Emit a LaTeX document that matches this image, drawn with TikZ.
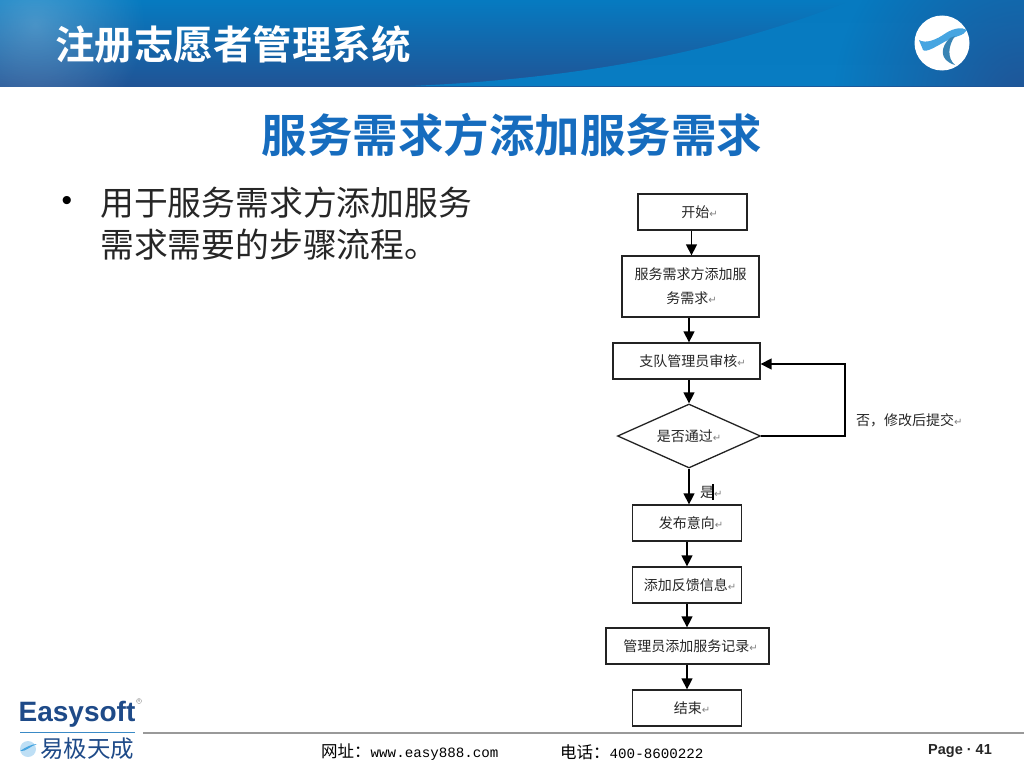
\documentclass[tikz,border=0pt]{standalone}
\usepackage{fontspec}
\usetikzlibrary{arrows.meta, positioning, calc, shapes.geometric, fadings}
\newfontfamily\cjk[BoldFont=* Bold]{Noto Sans CJK SC}
\newfontfamily\retfont{DejaVu Sans}
\newfontfamily\monofont{Liberation Mono}
\setmainfont{Liberation Sans}
\definecolor{headbright}{RGB}{6, 122, 192}
\definecolor{headdark}{RGB}{32, 84, 150}
\definecolor{headlow}{RGB}{8, 124, 194}
\definecolor{titleblue}{RGB}{22, 108, 190}
\definecolor{logoblue}{RGB}{30, 74, 136}
\definecolor{swooshblue}{RGB}{70, 165, 225}
\definecolor{flowline}{RGB}{35, 35, 35}
\tikzfading[name=softglow, inner color=transparent!0, outer color=transparent!100]
\newcommand{\retmark}{{\retfont\fontsize{10}{10}\selectfont\textcolor{gray}{↵}}}
\tikzset{
    flowbox/.style={draw=flowline, line width=1.3pt, fill=white, inner sep=0pt, align=center, text=black!85, font=\cjk\fontsize{14}{24}\selectfont},
    flowdecision/.style={flowbox, diamond, aspect=2.23},
    flowarrow/.style={draw=black, line width=1.4pt, -{Triangle[length=11pt, width=11pt]}},
    flowlabel/.style={inner sep=0pt, text=black!85, font=\cjk\fontsize{14}{16}\selectfont}
}
\begin{document}
\begin{tikzpicture}[x=1pt, y=-1pt]
    \useasboundingbox (0,0) rectangle (1024,768);

    % Testata
    \begin{scope}
        \clip (0,1) rectangle (1024,86);
        \shade[top color=headbright, bottom color=headdark] (0,1) rectangle (1024,86);
        \shade[top color=headbright, bottom color=headlow] (410,86) .. controls (600,78) and (740,45) .. (850,1) -- (1024,1) -- (1024,86) -- cycle;
        \fill[headdark, path fading=softglow] (1024,100) circle (190);
        \fill[white, opacity=0.25, path fading=softglow] (35,25) circle (110);
    \end{scope}
    \node[text=white, inner sep=0pt, font=\cjk\bfseries\fontsize{39.5}{44}\selectfont] (headtitle) at (233,44) {注册志愿者管理系统};

    % Marchio in alto
    \fill[white] (942,43) circle (27.5);
    \fill[swooshblue] (919,40) .. controls (926,44) and (936,40) .. (946,33)
        .. controls (954,28) and (962,27) .. (967,30)
        .. controls (964,36) and (955,36) .. (946,41)
        .. controls (937,46) and (926,53) .. (923,50)
        .. controls (922,47) and (920,43) .. (919,40) -- cycle;
    \fill[swooshblue!80!black] (950,38) .. controls (941,46) and (938,60) .. (955,65)
        .. controls (947,58) and (948,46) .. (955,36) -- cycle;

    \node[text=titleblue, inner sep=0pt, font=\cjk\bfseries\fontsize{45.5}{50}\selectfont] (subtitle) at (512,135) {服务需求方添加服务需求};

    % Testo a sinistra
    \node[inner sep=0pt, font=\fontsize{30}{30}\selectfont] (bulletdot) at (67,203) {•};
    \node[anchor=west, inner sep=0pt, text=black!85, font=\cjk\fontsize{33.8}{42}\selectfont, align=left] (bodytext) at (100,224) {用于服务需求方添加服务\\需求需要的步骤流程。};

    % Flusso
    \node[flowbox, minimum width=109, minimum height=36] (start) at (692.5,212) {\hspace{14pt}开始\retmark};
    \node[flowbox, minimum width=137, minimum height=61] (add) at (690.5,286.5) {服务需求方添加服\\\hspace{2pt}务需求\retmark};
    \node[flowbox, minimum width=147, minimum height=36] (review) at (686.5,361) {\hspace{12pt}支队管理员审核\retmark};
    \node[flowdecision, minimum width=143, minimum height=64] (check) at (689,436) {是否通过\retmark};
    \node[flowbox, minimum width=109, minimum height=36] (publish) at (687,523) {\hspace{8pt}发布意向\retmark};
    \node[flowbox, minimum width=109, minimum height=36] (feedback) at (687,585) {\hspace{6pt}添加反馈信息\retmark};
    \node[flowbox, minimum width=163, minimum height=36] (record) at (687.5,646) {\hspace{6pt}管理员添加服务记录\retmark};
    \node[flowbox, minimum width=109, minimum height=36] (finish) at (687,708) {\hspace{10pt}结束\retmark};

    \node[flowlabel, anchor=west] (nolabel) at (856,420) {否，修改后提交\retmark};
    \node[flowlabel, anchor=west] (yeslabel) at (700,492) {是\retmark};
    \draw[black, line width=1.2pt] ($(yeslabel.west)+(13,-8)$) -- ($(yeslabel.west)+(13,8)$);

    \draw[flowarrow] ([xshift=-1pt]start.south) -- ([xshift=-1pt]start.south |- add.north);
    \draw[flowarrow] (check.north |- add.south) -- (check.north |- review.north);
    \draw[flowarrow] (review.south -| check.north) -- (check.north);
    \draw[flowarrow] (check.south) -- (check.south |- publish.north);
    \draw[flowarrow] (publish.south) -- (feedback.north);
    \draw[flowarrow] (feedback.south) -- (record.north -| feedback.south);
    \draw[flowarrow] (record.south -| finish.north) -- (finish.north);

    \coordinate (loopcorner) at (845,364);
    \draw[flowarrow] (check.east) -| (loopcorner) -- (review.east |- loopcorner);

    % Piede di pagina
    \draw[gray!80, line width=1.2pt] (143,733) -- (1024,733);
    \node[text=logoblue, inner sep=0pt, font=\bfseries\fontsize{28}{30}\selectfont] (easysoft) at (77,714) {Easysoft};
    \node[circle, draw=gray, line width=0.3pt, inner sep=0.4pt, text=gray, font=\fontsize{4}{4}\selectfont] (regmark) at (139,701) {R};
    \draw[swooshblue!70!logoblue, line width=0.8pt] (20,732) -- (135,732);
    \fill[swooshblue!35] (28,749) circle (8);
    \fill[swooshblue] (20,751) .. controls (26,752) and (30,746) .. (37,744) .. controls (32,744) and (26,747) .. (20,751) -- cycle;
    \node[text=logoblue, inner sep=0pt, font=\cjk\fontsize{23.5}{25}\selectfont] (cnname) at (87,749) {易极天成};
    \node[inner sep=0pt, anchor=west, text=black, font=\cjk\fontsize{16.5}{18}\selectfont] (website) at (321,752) {网址：{\monofont\fontsize{14.2}{18}\selectfont www.easy888.com}};
    \node[inner sep=0pt, anchor=west, text=black, font=\cjk\fontsize{16.5}{18}\selectfont] (phone) at (560,752) {电话：{\monofont\fontsize{14.2}{18}\selectfont 400-8600222}};
    \node[inner sep=0pt, anchor=west, text=black!85, font=\bfseries\fontsize{14.5}{16}\selectfont] (pagenum) at (928,751) {Page · 41};
\end{tikzpicture}
\end{document}
